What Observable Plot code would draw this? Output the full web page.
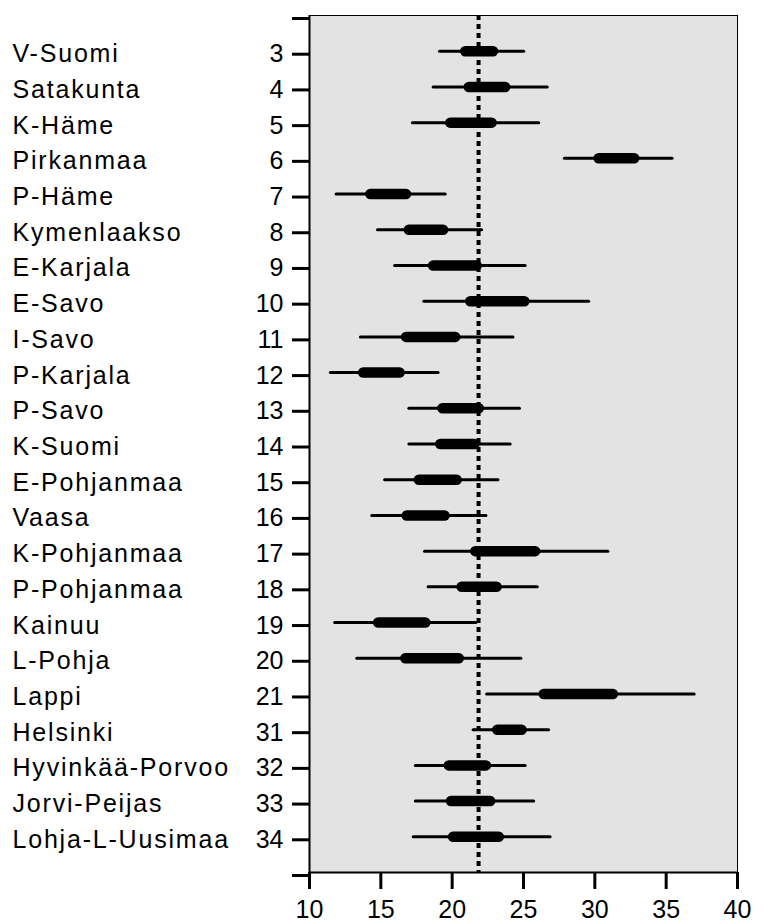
<!DOCTYPE html>
<html>
<head>
<meta charset="utf-8">
<script src="https://cdn.jsdelivr.net/npm/d3@7"></script>
<script src="https://cdn.jsdelivr.net/npm/@observablehq/plot@0.6"></script>
<style>
  body { margin: 0; background: #fff; }
  svg { display: block; }
</style>
</head>
<body>
<div id="chart"></div>
<script>
// Hospital districts, top to bottom
const regions = ["V-Suomi", "Satakunta", "K-Häme", "Pirkanmaa", "P-Häme", "Kymenlaakso",
  "E-Karjala", "E-Savo", "I-Savo", "P-Karjala", "P-Savo", "K-Suomi", "E-Pohjanmaa",
  "Vaasa", "K-Pohjanmaa", "P-Pohjanmaa", "Kainuu", "L-Pohja", "Lappi", "Helsinki",
  "Hyvinkää-Porvoo", "Jorvi-Peijas", "Lohja-L-Uusimaa"];
const codes = [3, 4, 5, 6, 7, 8, 9, 10, 11, 12, 13, 14, 15, 16, 17, 18, 19, 20, 21, 31, 32, 33, 34];

// Wide interval (thin line)
const outerLow  = [19.15, 18.7, 17.25, 27.9, 11.9, 14.8, 16.0, 18.05, 13.6, 11.5, 17.0, 17.0,
  15.3, 14.4, 18.1, 18.35, 11.8, 13.35, 22.45, 21.5, 17.45, 17.45, 17.3];
const outerHigh = [25.05, 26.7, 26.1, 35.45, 19.55, 22.1, 25.15, 29.6, 24.3, 19.05, 24.75, 24.1,
  23.25, 22.4, 30.95, 26.0, 21.7, 24.85, 37.0, 26.8, 25.15, 25.75, 26.9];
// Narrow interval (thick bar)
const innerLow  = [20.95, 21.2, 19.9, 30.3, 14.3, 17.0, 18.7, 21.3, 16.8, 13.8, 19.35, 19.2,
  17.7, 16.85, 21.65, 20.7, 14.85, 16.75, 26.45, 23.2, 19.8, 19.95, 20.1];
const innerHigh = [22.9, 23.75, 22.8, 32.8, 16.8, 19.4, 21.75, 25.1, 20.25, 16.35, 21.9, 21.6,
  20.35, 19.5, 25.85, 23.15, 18.15, 20.5, 31.3, 24.9, 22.4, 22.7, 23.3];

// Overall reference level (dotted line)
const average = 21.85;
const xTicks = [10, 15, 20, 25, 30, 35, 40];

const rows = regions.map((region, i) => ({
  region, code: codes[i], pos: i + 1,
  outerLow: outerLow[i], outerHigh: outerHigh[i],
  innerLow: innerLow[i], innerHigh: innerHigh[i]
}));

const last = regions.length + 1;
const positions = d3.range(0, last + 1);
const font = "'Liberation Sans', Arial, Helvetica, sans-serif";

const chart = Plot.plot({
  width: 772,
  height: 924,
  marginLeft: 309,
  marginRight: 35,
  marginTop: 15,
  marginBottom: 52,
  style: { fontFamily: font, fontSize: "25px", color: "#000", background: "#fff" },
  x: { domain: [10, 40] },
  y: { domain: [0, last], reverse: true },
  marks: [
    Plot.frame({ fill: "#e3e3e3", stroke: "#000", strokeWidth: 1 }),
    Plot.ruleX([10], { stroke: "#000", strokeWidth: 2 }),
    Plot.ruleY([last], { stroke: "#000", strokeWidth: 2 }),
    Plot.axisX({ ticks: xTicks, tickSize: 17, tickPadding: 11, strokeWidth: 3, fontSize: 25, label: null }),
    Plot.axisY({
      ticks: positions, tickSize: 17, tickPadding: 9, strokeWidth: 3, fontSize: 25, dy: 3,
      tickFormat: p => (p >= 1 && p <= regions.length ? String(codes[p - 1]) : ""), label: null
    }),
    Plot.axisY({
      ticks: positions.slice(1, -1), tickSize: 0, tickPadding: 297, textAnchor: "start",
      fontSize: 25, dy: 3, tickFormat: p => regions[p - 1], label: null
    }),
    Plot.ruleX([average], { stroke: "#000", strokeWidth: 4, strokeDasharray: "5,4" }),
    Plot.ruleY(rows, { y: "pos", x1: "outerLow", x2: "outerHigh", stroke: "#000", strokeWidth: 3, strokeLinecap: "round" }),
    Plot.ruleY(rows, { y: "pos", x1: "innerLow", x2: "innerHigh", stroke: "#000", strokeWidth: 10.5, strokeLinecap: "round" })
  ]
});

// Region names are set slightly wider than the numeric labels
d3.select(chart).selectAll("text")
  .filter(function () { return regions.includes(this.textContent); })
  .style("letter-spacing", "1.8px");

document.getElementById("chart").append(chart);
</script>
</body>
</html>
